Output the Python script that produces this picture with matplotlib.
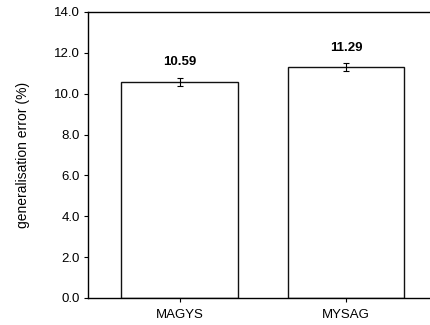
import matplotlib
matplotlib.use("Agg")
import matplotlib.pyplot as plt

categories = ["MAGYS", "MYSAG"]
values = [10.59, 11.29]
errors = [0.2, 0.2]
value_labels = ["10.59", "11.29"]
yticks = [0, 2, 4, 6, 8, 10, 12, 14]

plt.rcParams['font.family'] = ['Liberation Sans', 'DejaVu Sans']

fig = plt.figure(figsize=(4.3, 3.25), dpi=100)
ax = fig.add_axes([88/430, 1 - 298/325, (431-88)/430, (298-12)/325])

x = list(range(len(categories)))
ax.bar(x, values, width=0.7, color="white", edgecolor="#111111", linewidth=1.0,
       yerr=errors, error_kw=dict(ecolor="black", elinewidth=0.8, capsize=2, capthick=0.8))
for xi, v, e, lab in zip(x, values, errors, value_labels):
    ax.annotate(lab, (xi, v + e), xytext=(0, 11), textcoords="offset points",
                ha="center", va="center", fontsize=9.5, fontweight="bold")

ax.set_xlim(-0.55, 1.51)
ax.set_ylim(0, 14)
ax.set_yticks(yticks)
ax.set_yticklabels([f"{t:.1f}" for t in yticks])
ax.set_xticks(x)
ax.set_xticklabels(categories)
ax.tick_params(axis="both", labelsize=9.5, direction="out", length=3, width=0.8)
ax.tick_params(axis="y", pad=3)
ax.tick_params(axis="x", pad=5)
ax.set_ylabel("generalisation error (%)", fontsize=10, labelpad=17)
for s in ["left", "bottom", "top"]:
    ax.spines[s].set_linewidth(1.0)
ax.spines["right"].set_visible(False)

fig.savefig("out.png", dpi=100)
